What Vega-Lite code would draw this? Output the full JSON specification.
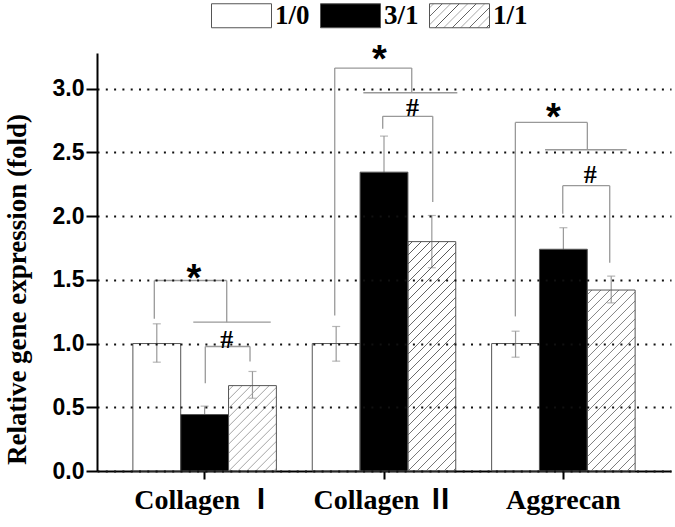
{
  "$schema": "https://vega.github.io/schema/vega-lite/v6.json",
  "width": 574,
  "height": 418,
  "autosize": {"type": "none"},
  "padding": {"left": 97, "top": 53, "right": 4, "bottom": 56},
  "background": "white",
  "config": {
    "view": {"stroke": null},
    "axisY": {
      "grid": true, "gridDash": [2, 6.3], "gridColor": "#111", "gridWidth": 1.8,
      "domainColor": "#000", "domainWidth": 2, "tickColor": "#000", "tickWidth": 2, "tickSize": 11,
      "labelFont": "Liberation Sans", "labelFontWeight": "bold", "labelFontSize": 23, "labelColor": "#000", "labelPadding": 2,
      "titleFont": "Liberation Serif", "titleFontWeight": "bold", "titleFontSize": 27, "titleColor": "#000"
    },
    "axisX": {
      "grid": false, "domainColor": "#000", "domainWidth": 2, "tickColor": "#000", "tickWidth": 2, "tickSize": 8,
      "labelFont": "Liberation Serif, Noto Sans CJK SC", "labelFontWeight": "bold", "labelFontSize": 28, "labelColor": "#000", "labelPadding": 7, "labelAngle": 0
    }
  },
  "datasets": {
    "bars": [
      {"gene": "Collagen Ⅰ", "group": "1/0", "value": 1.0, "lo": 0.854, "hi": 1.155},
      {"gene": "Collagen Ⅰ", "group": "3/1", "value": 0.443, "lo": 0.377, "hi": 0.509},
      {"gene": "Collagen Ⅰ", "group": "1/1", "value": 0.67, "lo": 0.571, "hi": 0.781},
      {"gene": "Collagen Ⅱ", "group": "1/0", "value": 1.0, "lo": 0.862, "hi": 1.134},
      {"gene": "Collagen Ⅱ", "group": "3/1", "value": 2.345, "lo": 2.062, "hi": 2.628},
      {"gene": "Collagen Ⅱ", "group": "1/1", "value": 1.80, "lo": 1.595, "hi": 2.005},
      {"gene": "Aggrecan", "group": "1/0", "value": 1.0, "lo": 0.893, "hi": 1.097},
      {"gene": "Aggrecan", "group": "3/1", "value": 1.74, "lo": 1.571, "hi": 1.909},
      {"gene": "Aggrecan", "group": "1/1", "value": 1.42, "lo": 1.32, "hi": 1.529}
    ],
    "lines": [
      {"x1": 1.198, "x2": 2.712, "y1": 1.495, "y2": 1.495},
      {"x1": 1.198, "x2": 1.198, "y1": 1.495, "y2": 1.195},
      {"x1": 2.712, "x2": 2.712, "y1": 1.495, "y2": 1.168},
      {"x1": 2.013, "x2": 3.632, "y1": 1.168, "y2": 1.168},
      {"x1": 2.264, "x2": 3.199, "y1": 0.977, "y2": 0.977},
      {"x1": 2.264, "x2": 2.264, "y1": 0.977, "y2": 0.689},
      {"x1": 3.199, "x2": 3.199, "y1": 0.977, "y2": 0.86},
      {"x1": 4.97, "x2": 6.58, "y1": 3.162, "y2": 3.162},
      {"x1": 4.97, "x2": 4.97, "y1": 3.162, "y2": 1.22},
      {"x1": 6.58, "x2": 6.58, "y1": 3.162, "y2": 2.968},
      {"x1": 5.568, "x2": 7.533, "y1": 2.968, "y2": 2.968},
      {"x1": 5.973, "x2": 7.019, "y1": 2.783, "y2": 2.783},
      {"x1": 5.973, "x2": 5.973, "y1": 2.783, "y2": 2.686},
      {"x1": 7.019, "x2": 7.019, "y1": 2.783, "y2": 2.11},
      {"x1": 8.746, "x2": 10.251, "y1": 2.735, "y2": 2.735},
      {"x1": 8.746, "x2": 8.746, "y1": 2.735, "y2": 1.213},
      {"x1": 10.251, "x2": 10.251, "y1": 2.735, "y2": 2.521},
      {"x1": 9.367, "x2": 11.075, "y1": 2.521, "y2": 2.521},
      {"x1": 9.737, "x2": 10.719, "y1": 2.239, "y2": 2.239},
      {"x1": 9.737, "x2": 9.737, "y1": 2.239, "y2": 2.019},
      {"x1": 10.719, "x2": 10.719, "y1": 2.239, "y2": 1.634}
    ],
    "marks": [
      {"sym": "*", "x": 2.028, "y": 1.577},
      {"sym": "*", "x": 5.906, "y": 3.294},
      {"sym": "*", "x": 9.54, "y": 2.837},
      {"sym": "#", "x": 2.712, "y": 1.032},
      {"sym": "#", "x": 6.596, "y": 2.858},
      {"sym": "#", "x": 10.314, "y": 2.328}
    ]
  },
  "resolve": {"scale": {"x": "independent"}},
  "layer": [
    {
      "layer": [
        {
          "data": {"name": "bars"},
          "mark": {"type": "rule", "color": "#999", "strokeWidth": 1.2},
          "encoding": {
            "x": {"field": "gene", "type": "nominal", "sort": null, "scale": {"domain": ["Collagen Ⅰ", "Collagen Ⅱ", "Aggrecan"], "paddingInner": 0.2, "paddingOuter": 0.2}, "title": null},
            "xOffset": {"field": "group", "type": "nominal", "scale": {"domain": ["1/0", "3/1", "1/1"], "paddingInner": 0, "paddingOuter": 0}},
            "y": {"field": "lo", "type": "quantitative", "scale": {"domain": [0, 3.28], "nice": false}, "title": "Relative gene expression (fold)"},
            "y2": {"field": "hi"}
          }
        },
        {
          "data": {"name": "bars"},
          "mark": {"type": "tick", "color": "#999", "thickness": 1.2, "size": 8, "orient": "horizontal"},
          "encoding": {
            "x": {"field": "gene", "type": "nominal", "sort": null, "scale": {"domain": ["Collagen Ⅰ", "Collagen Ⅱ", "Aggrecan"], "paddingInner": 0.2, "paddingOuter": 0.2}, "title": null},
            "xOffset": {"field": "group", "type": "nominal", "scale": {"domain": ["1/0", "3/1", "1/1"], "paddingInner": 0, "paddingOuter": 0}},
            "y": {"field": "lo", "type": "quantitative", "scale": {"domain": [0, 3.28], "nice": false}, "title": "Relative gene expression (fold)"}
          }
        },
        {
          "data": {"name": "bars"},
          "mark": {"type": "tick", "color": "#999", "thickness": 1.2, "size": 8, "orient": "horizontal"},
          "encoding": {
            "x": {"field": "gene", "type": "nominal", "sort": null, "scale": {"domain": ["Collagen Ⅰ", "Collagen Ⅱ", "Aggrecan"], "paddingInner": 0.2, "paddingOuter": 0.2}, "title": null},
            "xOffset": {"field": "group", "type": "nominal", "scale": {"domain": ["1/0", "3/1", "1/1"], "paddingInner": 0, "paddingOuter": 0}},
            "y": {"field": "hi", "type": "quantitative", "scale": {"domain": [0, 3.28], "nice": false}, "title": "Relative gene expression (fold)"}
          }
        },
        {
          "data": {"name": "bars"},
          "transform": [{"filter": "datum.group !== '1/1'"}],
          "mark": {"type": "bar", "stroke": "#555", "strokeWidth": 1},
          "encoding": {
            "x": {"field": "gene", "type": "nominal", "sort": null, "scale": {"domain": ["Collagen Ⅰ", "Collagen Ⅱ", "Aggrecan"], "paddingInner": 0.2, "paddingOuter": 0.2}, "title": null},
            "xOffset": {"field": "group", "type": "nominal", "scale": {"domain": ["1/0", "3/1", "1/1"], "paddingInner": 0, "paddingOuter": 0}},
            "y": {"field": "value", "type": "quantitative", "scale": {"domain": [0, 3.28], "nice": false}, "title": "Relative gene expression (fold)",
              "axis": {"values": [0, 0.5, 1, 1.5, 2, 2.5, 3], "format": ".1f", "zindex": 1, "titleAngle": -90, "titleX": -72, "titleY": 236, "titleAlign": "center", "titleBaseline": "alphabetic"}},
            "color": {"field": "group", "type": "nominal",
              "scale": {"domain": ["1/0", "3/1", "1/1"], "range": ["rgba(255,255,255,0)", "#000000", {"expr": "{gradient: 'linear', x1: 0, y1: 0, x2: 1.207, y2: 0.483, stops: [{offset: 0.038, color: 'rgba(255,255,255,0)'}, {offset: 0.05, color: '#555'}, {offset: 0.062, color: 'rgba(255,255,255,0)'}, {offset: 0.139, color: 'rgba(255,255,255,0)'}, {offset: 0.151, color: '#555'}, {offset: 0.163, color: 'rgba(255,255,255,0)'}, {offset: 0.24, color: 'rgba(255,255,255,0)'}, {offset: 0.252, color: '#555'}, {offset: 0.264, color: 'rgba(255,255,255,0)'}, {offset: 0.342, color: 'rgba(255,255,255,0)'}, {offset: 0.354, color: '#555'}, {offset: 0.366, color: 'rgba(255,255,255,0)'}, {offset: 0.443, color: 'rgba(255,255,255,0)'}, {offset: 0.455, color: '#555'}, {offset: 0.467, color: 'rgba(255,255,255,0)'}, {offset: 0.544, color: 'rgba(255,255,255,0)'}, {offset: 0.556, color: '#555'}, {offset: 0.568, color: 'rgba(255,255,255,0)'}, {offset: 0.645, color: 'rgba(255,255,255,0)'}, {offset: 0.657, color: '#555'}, {offset: 0.669, color: 'rgba(255,255,255,0)'}, {offset: 0.746, color: 'rgba(255,255,255,0)'}, {offset: 0.758, color: '#555'}, {offset: 0.77, color: 'rgba(255,255,255,0)'}, {offset: 0.848, color: 'rgba(255,255,255,0)'}, {offset: 0.86, color: '#555'}, {offset: 0.872, color: 'rgba(255,255,255,0)'}, {offset: 0.949, color: 'rgba(255,255,255,0)'}, {offset: 0.961, color: '#555'}, {offset: 0.973, color: 'rgba(255,255,255,0)'}]}"}]},
              "legend": {
                "orient": "none", "legendX": 114, "legendY": -68, "direction": "horizontal", "title": null, "padding": 0,
                "symbolType": "M-1,-0.4H1V0.4H-1Z", "symbolSize": 3600, "symbolStrokeColor": "#555", "symbolStrokeWidth": 1, "symbolOpacity": 1,
                "labelFont": "Liberation Serif", "labelFontWeight": "bold", "labelFontSize": 27, "labelColor": "#000", "labelOffset": 3, "columnPadding": 8
              }
            }
          }
        },
        {
          "data": {"name": "bars"},
          "transform": [{"filter": "datum.group === '1/1' && datum.gene === 'Collagen Ⅰ'"}],
          "mark": {"type": "bar", "stroke": "#555", "strokeWidth": 1, "fill": {"gradient": "linear", "x1": 0, "y1": 0, "x2": 0.665, "y2": 1.187, "stops": [
            {"offset": 0.0263, "color": "rgba(255,255,255,0)"}, {"offset": 0.0338, "color": "#555"}, {"offset": 0.0413, "color": "rgba(255,255,255,0)"},
            {"offset": 0.0939, "color": "rgba(255,255,255,0)"}, {"offset": 0.1014, "color": "#555"}, {"offset": 0.1089, "color": "rgba(255,255,255,0)"},
            {"offset": 0.1614, "color": "rgba(255,255,255,0)"}, {"offset": 0.1689, "color": "#555"}, {"offset": 0.1764, "color": "rgba(255,255,255,0)"},
            {"offset": 0.229, "color": "rgba(255,255,255,0)"}, {"offset": 0.2365, "color": "#555"}, {"offset": 0.244, "color": "rgba(255,255,255,0)"},
            {"offset": 0.2966, "color": "rgba(255,255,255,0)"}, {"offset": 0.3041, "color": "#555"}, {"offset": 0.3116, "color": "rgba(255,255,255,0)"},
            {"offset": 0.3641, "color": "rgba(255,255,255,0)"}, {"offset": 0.3716, "color": "#555"}, {"offset": 0.3791, "color": "rgba(255,255,255,0)"},
            {"offset": 0.4317, "color": "rgba(255,255,255,0)"}, {"offset": 0.4392, "color": "#555"}, {"offset": 0.4467, "color": "rgba(255,255,255,0)"},
            {"offset": 0.4993, "color": "rgba(255,255,255,0)"}, {"offset": 0.5068, "color": "#555"}, {"offset": 0.5143, "color": "rgba(255,255,255,0)"},
            {"offset": 0.5668, "color": "rgba(255,255,255,0)"}, {"offset": 0.5743, "color": "#555"}, {"offset": 0.5818, "color": "rgba(255,255,255,0)"},
            {"offset": 0.6344, "color": "rgba(255,255,255,0)"}, {"offset": 0.6419, "color": "#555"}, {"offset": 0.6494, "color": "rgba(255,255,255,0)"},
            {"offset": 0.702, "color": "rgba(255,255,255,0)"}, {"offset": 0.7095, "color": "#555"}, {"offset": 0.717, "color": "rgba(255,255,255,0)"},
            {"offset": 0.7695, "color": "rgba(255,255,255,0)"}, {"offset": 0.777, "color": "#555"}, {"offset": 0.7845, "color": "rgba(255,255,255,0)"},
            {"offset": 0.8371, "color": "rgba(255,255,255,0)"}, {"offset": 0.8446, "color": "#555"}, {"offset": 0.8521, "color": "rgba(255,255,255,0)"},
            {"offset": 0.9047, "color": "rgba(255,255,255,0)"}, {"offset": 0.9122, "color": "#555"}, {"offset": 0.9197, "color": "rgba(255,255,255,0)"},
            {"offset": 0.9722, "color": "rgba(255,255,255,0)"}, {"offset": 0.9797, "color": "#555"}, {"offset": 0.9872, "color": "rgba(255,255,255,0)"}
          ]}},
          "encoding": {
            "x": {"field": "gene", "type": "nominal", "sort": null, "scale": {"domain": ["Collagen Ⅰ", "Collagen Ⅱ", "Aggrecan"], "paddingInner": 0.2, "paddingOuter": 0.2}, "title": null},
            "xOffset": {"field": "group", "type": "nominal", "scale": {"domain": ["1/0", "3/1", "1/1"], "paddingInner": 0, "paddingOuter": 0}},
            "y": {"field": "value", "type": "quantitative", "scale": {"domain": [0, 3.28], "nice": false}, "title": "Relative gene expression (fold)"}
          }
        },
        {
          "data": {"name": "bars"},
          "transform": [{"filter": "datum.group === '1/1' && datum.gene === 'Collagen Ⅱ'"}],
          "mark": {"type": "bar", "stroke": "#555", "strokeWidth": 1, "fill": {"gradient": "linear", "x1": 0, "y1": 0, "x2": 0.2416, "y2": 1.158, "stops": [
            {"offset": 0.0126, "color": "rgba(255,255,255,0)"}, {"offset": 0.0162, "color": "#555"}, {"offset": 0.0198, "color": "rgba(255,255,255,0)"},
            {"offset": 0.0451, "color": "rgba(255,255,255,0)"}, {"offset": 0.0487, "color": "#555"}, {"offset": 0.0523, "color": "rgba(255,255,255,0)"},
            {"offset": 0.0776, "color": "rgba(255,255,255,0)"}, {"offset": 0.0812, "color": "#555"}, {"offset": 0.0848, "color": "rgba(255,255,255,0)"},
            {"offset": 0.1101, "color": "rgba(255,255,255,0)"}, {"offset": 0.1137, "color": "#555"}, {"offset": 0.1173, "color": "rgba(255,255,255,0)"},
            {"offset": 0.1426, "color": "rgba(255,255,255,0)"}, {"offset": 0.1462, "color": "#555"}, {"offset": 0.1498, "color": "rgba(255,255,255,0)"},
            {"offset": 0.175, "color": "rgba(255,255,255,0)"}, {"offset": 0.1786, "color": "#555"}, {"offset": 0.1822, "color": "rgba(255,255,255,0)"},
            {"offset": 0.2075, "color": "rgba(255,255,255,0)"}, {"offset": 0.2111, "color": "#555"}, {"offset": 0.2147, "color": "rgba(255,255,255,0)"},
            {"offset": 0.24, "color": "rgba(255,255,255,0)"}, {"offset": 0.2436, "color": "#555"}, {"offset": 0.2472, "color": "rgba(255,255,255,0)"},
            {"offset": 0.2725, "color": "rgba(255,255,255,0)"}, {"offset": 0.2761, "color": "#555"}, {"offset": 0.2797, "color": "rgba(255,255,255,0)"},
            {"offset": 0.305, "color": "rgba(255,255,255,0)"}, {"offset": 0.3086, "color": "#555"}, {"offset": 0.3122, "color": "rgba(255,255,255,0)"},
            {"offset": 0.3374, "color": "rgba(255,255,255,0)"}, {"offset": 0.341, "color": "#555"}, {"offset": 0.3446, "color": "rgba(255,255,255,0)"},
            {"offset": 0.3699, "color": "rgba(255,255,255,0)"}, {"offset": 0.3735, "color": "#555"}, {"offset": 0.3771, "color": "rgba(255,255,255,0)"},
            {"offset": 0.4024, "color": "rgba(255,255,255,0)"}, {"offset": 0.406, "color": "#555"}, {"offset": 0.4096, "color": "rgba(255,255,255,0)"},
            {"offset": 0.4349, "color": "rgba(255,255,255,0)"}, {"offset": 0.4385, "color": "#555"}, {"offset": 0.4421, "color": "rgba(255,255,255,0)"},
            {"offset": 0.4674, "color": "rgba(255,255,255,0)"}, {"offset": 0.471, "color": "#555"}, {"offset": 0.4746, "color": "rgba(255,255,255,0)"},
            {"offset": 0.4998, "color": "rgba(255,255,255,0)"}, {"offset": 0.5034, "color": "#555"}, {"offset": 0.507, "color": "rgba(255,255,255,0)"},
            {"offset": 0.5323, "color": "rgba(255,255,255,0)"}, {"offset": 0.5359, "color": "#555"}, {"offset": 0.5395, "color": "rgba(255,255,255,0)"},
            {"offset": 0.5648, "color": "rgba(255,255,255,0)"}, {"offset": 0.5684, "color": "#555"}, {"offset": 0.572, "color": "rgba(255,255,255,0)"},
            {"offset": 0.5973, "color": "rgba(255,255,255,0)"}, {"offset": 0.6009, "color": "#555"}, {"offset": 0.6045, "color": "rgba(255,255,255,0)"},
            {"offset": 0.6298, "color": "rgba(255,255,255,0)"}, {"offset": 0.6334, "color": "#555"}, {"offset": 0.637, "color": "rgba(255,255,255,0)"},
            {"offset": 0.6622, "color": "rgba(255,255,255,0)"}, {"offset": 0.6658, "color": "#555"}, {"offset": 0.6694, "color": "rgba(255,255,255,0)"},
            {"offset": 0.6947, "color": "rgba(255,255,255,0)"}, {"offset": 0.6983, "color": "#555"}, {"offset": 0.7019, "color": "rgba(255,255,255,0)"},
            {"offset": 0.7272, "color": "rgba(255,255,255,0)"}, {"offset": 0.7308, "color": "#555"}, {"offset": 0.7344, "color": "rgba(255,255,255,0)"},
            {"offset": 0.7597, "color": "rgba(255,255,255,0)"}, {"offset": 0.7633, "color": "#555"}, {"offset": 0.7669, "color": "rgba(255,255,255,0)"},
            {"offset": 0.7922, "color": "rgba(255,255,255,0)"}, {"offset": 0.7958, "color": "#555"}, {"offset": 0.7994, "color": "rgba(255,255,255,0)"},
            {"offset": 0.8246, "color": "rgba(255,255,255,0)"}, {"offset": 0.8282, "color": "#555"}, {"offset": 0.8318, "color": "rgba(255,255,255,0)"},
            {"offset": 0.8571, "color": "rgba(255,255,255,0)"}, {"offset": 0.8607, "color": "#555"}, {"offset": 0.8643, "color": "rgba(255,255,255,0)"},
            {"offset": 0.8896, "color": "rgba(255,255,255,0)"}, {"offset": 0.8932, "color": "#555"}, {"offset": 0.8968, "color": "rgba(255,255,255,0)"},
            {"offset": 0.9221, "color": "rgba(255,255,255,0)"}, {"offset": 0.9257, "color": "#555"}, {"offset": 0.9293, "color": "rgba(255,255,255,0)"},
            {"offset": 0.9546, "color": "rgba(255,255,255,0)"}, {"offset": 0.9582, "color": "#555"}, {"offset": 0.9618, "color": "rgba(255,255,255,0)"},
            {"offset": 0.987, "color": "rgba(255,255,255,0)"}, {"offset": 0.9906, "color": "#555"}, {"offset": 0.9942, "color": "rgba(255,255,255,0)"}
          ]}},
          "encoding": {
            "x": {"field": "gene", "type": "nominal", "sort": null, "scale": {"domain": ["Collagen Ⅰ", "Collagen Ⅱ", "Aggrecan"], "paddingInner": 0.2, "paddingOuter": 0.2}, "title": null},
            "xOffset": {"field": "group", "type": "nominal", "scale": {"domain": ["1/0", "3/1", "1/1"], "paddingInner": 0, "paddingOuter": 0}},
            "y": {"field": "value", "type": "quantitative", "scale": {"domain": [0, 3.28], "nice": false}, "title": "Relative gene expression (fold)"}
          }
        },
        {
          "data": {"name": "bars"},
          "transform": [{"filter": "datum.group === '1/1' && datum.gene === 'Aggrecan'"}],
          "mark": {"type": "bar", "stroke": "#555", "strokeWidth": 1, "fill": {"gradient": "linear", "x1": 0, "y1": 0, "x2": 0.3124, "y2": 1.1816, "stops": [
            {"offset": 0.0153, "color": "rgba(255,255,255,0)"}, {"offset": 0.0197, "color": "#555"}, {"offset": 0.0241, "color": "rgba(255,255,255,0)"},
            {"offset": 0.0546, "color": "rgba(255,255,255,0)"}, {"offset": 0.059, "color": "#555"}, {"offset": 0.0634, "color": "rgba(255,255,255,0)"},
            {"offset": 0.094, "color": "rgba(255,255,255,0)"}, {"offset": 0.0984, "color": "#555"}, {"offset": 0.1028, "color": "rgba(255,255,255,0)"},
            {"offset": 0.1333, "color": "rgba(255,255,255,0)"}, {"offset": 0.1377, "color": "#555"}, {"offset": 0.1421, "color": "rgba(255,255,255,0)"},
            {"offset": 0.1727, "color": "rgba(255,255,255,0)"}, {"offset": 0.1771, "color": "#555"}, {"offset": 0.1815, "color": "rgba(255,255,255,0)"},
            {"offset": 0.212, "color": "rgba(255,255,255,0)"}, {"offset": 0.2164, "color": "#555"}, {"offset": 0.2208, "color": "rgba(255,255,255,0)"},
            {"offset": 0.2514, "color": "rgba(255,255,255,0)"}, {"offset": 0.2558, "color": "#555"}, {"offset": 0.2602, "color": "rgba(255,255,255,0)"},
            {"offset": 0.2907, "color": "rgba(255,255,255,0)"}, {"offset": 0.2951, "color": "#555"}, {"offset": 0.2995, "color": "rgba(255,255,255,0)"},
            {"offset": 0.3301, "color": "rgba(255,255,255,0)"}, {"offset": 0.3345, "color": "#555"}, {"offset": 0.3389, "color": "rgba(255,255,255,0)"},
            {"offset": 0.3694, "color": "rgba(255,255,255,0)"}, {"offset": 0.3738, "color": "#555"}, {"offset": 0.3782, "color": "rgba(255,255,255,0)"},
            {"offset": 0.4088, "color": "rgba(255,255,255,0)"}, {"offset": 0.4132, "color": "#555"}, {"offset": 0.4176, "color": "rgba(255,255,255,0)"},
            {"offset": 0.4481, "color": "rgba(255,255,255,0)"}, {"offset": 0.4525, "color": "#555"}, {"offset": 0.4569, "color": "rgba(255,255,255,0)"},
            {"offset": 0.4875, "color": "rgba(255,255,255,0)"}, {"offset": 0.4919, "color": "#555"}, {"offset": 0.4963, "color": "rgba(255,255,255,0)"},
            {"offset": 0.5268, "color": "rgba(255,255,255,0)"}, {"offset": 0.5312, "color": "#555"}, {"offset": 0.5356, "color": "rgba(255,255,255,0)"},
            {"offset": 0.5662, "color": "rgba(255,255,255,0)"}, {"offset": 0.5706, "color": "#555"}, {"offset": 0.575, "color": "rgba(255,255,255,0)"},
            {"offset": 0.6055, "color": "rgba(255,255,255,0)"}, {"offset": 0.6099, "color": "#555"}, {"offset": 0.6143, "color": "rgba(255,255,255,0)"},
            {"offset": 0.6449, "color": "rgba(255,255,255,0)"}, {"offset": 0.6493, "color": "#555"}, {"offset": 0.6537, "color": "rgba(255,255,255,0)"},
            {"offset": 0.6842, "color": "rgba(255,255,255,0)"}, {"offset": 0.6886, "color": "#555"}, {"offset": 0.693, "color": "rgba(255,255,255,0)"},
            {"offset": 0.7236, "color": "rgba(255,255,255,0)"}, {"offset": 0.728, "color": "#555"}, {"offset": 0.7324, "color": "rgba(255,255,255,0)"},
            {"offset": 0.7629, "color": "rgba(255,255,255,0)"}, {"offset": 0.7673, "color": "#555"}, {"offset": 0.7717, "color": "rgba(255,255,255,0)"},
            {"offset": 0.8023, "color": "rgba(255,255,255,0)"}, {"offset": 0.8067, "color": "#555"}, {"offset": 0.8111, "color": "rgba(255,255,255,0)"},
            {"offset": 0.8416, "color": "rgba(255,255,255,0)"}, {"offset": 0.846, "color": "#555"}, {"offset": 0.8504, "color": "rgba(255,255,255,0)"},
            {"offset": 0.881, "color": "rgba(255,255,255,0)"}, {"offset": 0.8854, "color": "#555"}, {"offset": 0.8898, "color": "rgba(255,255,255,0)"},
            {"offset": 0.9203, "color": "rgba(255,255,255,0)"}, {"offset": 0.9247, "color": "#555"}, {"offset": 0.9291, "color": "rgba(255,255,255,0)"},
            {"offset": 0.9597, "color": "rgba(255,255,255,0)"}, {"offset": 0.9641, "color": "#555"}, {"offset": 0.9685, "color": "rgba(255,255,255,0)"}
          ]}},
          "encoding": {
            "x": {"field": "gene", "type": "nominal", "sort": null, "scale": {"domain": ["Collagen Ⅰ", "Collagen Ⅱ", "Aggrecan"], "paddingInner": 0.2, "paddingOuter": 0.2}, "title": null},
            "xOffset": {"field": "group", "type": "nominal", "scale": {"domain": ["1/0", "3/1", "1/1"], "paddingInner": 0, "paddingOuter": 0}},
            "y": {"field": "value", "type": "quantitative", "scale": {"domain": [0, 3.28], "nice": false}, "title": "Relative gene expression (fold)"}
          }
        }
      ]
    },
    {
      "layer": [
        {
          "data": {"name": "lines"},
          "mark": {"type": "rule", "color": "#999", "strokeWidth": 1.3},
          "encoding": {
            "x": {"field": "x1", "type": "quantitative", "scale": {"domain": [0, 12], "nice": false, "zero": false}, "axis": null},
            "x2": {"field": "x2"},
            "y": {"field": "y1", "type": "quantitative", "scale": {"domain": [0, 3.28], "nice": false}, "title": "Relative gene expression (fold)"},
            "y2": {"field": "y2"}
          }
        },
        {
          "data": {"name": "marks"},
          "transform": [{"filter": "datum.sym === '*'"}],
          "mark": {"type": "text", "font": "Liberation Sans", "fontWeight": "bold", "fontSize": 38, "dy": 21, "baseline": "alphabetic", "align": "center", "color": "#000"},
          "encoding": {
            "x": {"field": "x", "type": "quantitative", "scale": {"domain": [0, 12], "nice": false, "zero": false}, "axis": null},
            "y": {"field": "y", "type": "quantitative", "scale": {"domain": [0, 3.28], "nice": false}, "title": "Relative gene expression (fold)"},
            "text": {"field": "sym"}
          }
        },
        {
          "data": {"name": "marks"},
          "transform": [{"filter": "datum.sym === '#'"}],
          "mark": {"type": "text", "font": "Liberation Serif", "fontWeight": "bold", "fontSize": 26, "dy": 9, "baseline": "alphabetic", "align": "center", "color": "#000"},
          "encoding": {
            "x": {"field": "x", "type": "quantitative", "scale": {"domain": [0, 12], "nice": false, "zero": false}, "axis": null},
            "y": {"field": "y", "type": "quantitative", "scale": {"domain": [0, 3.28], "nice": false}, "title": "Relative gene expression (fold)"},
            "text": {"field": "sym"}
          }
        }
      ]
    }
  ]
}
